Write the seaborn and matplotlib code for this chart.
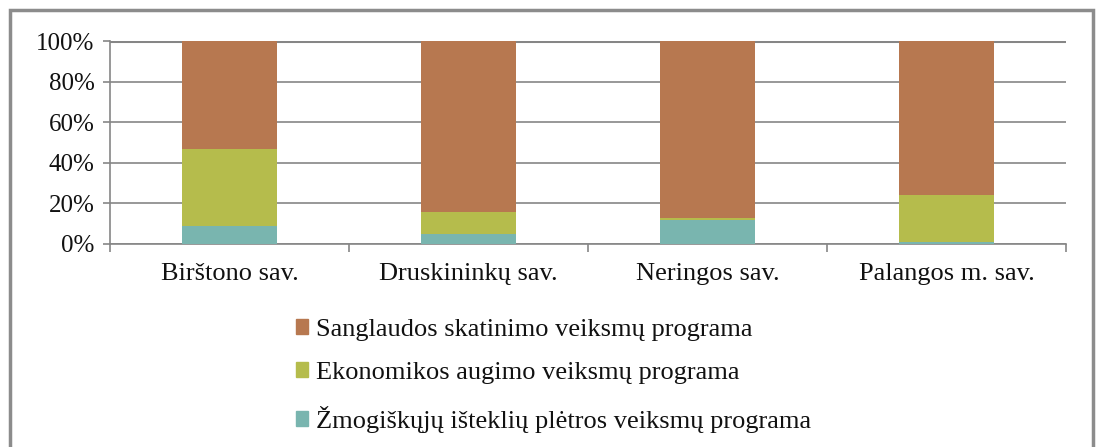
import matplotlib
matplotlib.use("Agg")
import matplotlib.pyplot as plt
import matplotlib.patches as mpatches
from matplotlib.ticker import FixedLocator, PercentFormatter
import numpy as np
import pandas as pd
import seaborn as sns

# Savivaldybės ir ES fondų veiksmų programų dalys (%)
savivaldybes = ["Birštono sav.", "Druskininkų sav.", "Neringos sav.", "Palangos m. sav."]
zmogiskuju = [9, 5, 12, 1]
ekonomikos = [38, 11, 1, 23]
sanglaudos = [53, 84, 87, 76]

serijos = [
    "Žmogiškųjų išteklių plėtros veiksmų programa",
    "Ekonomikos augimo veiksmų programa",
    "Sanglaudos skatinimo veiksmų programa",
]
spalvos = ["#79B5AF", "#B5BC4C", "#B77850"]

sns.set_theme(style="white")
plt.rcParams["font.family"] = ["Liberation Serif", "DejaVu Serif"]

df = pd.DataFrame({
    "savivaldybe": savivaldybes,
    serijos[0]: zmogiskuju,
    serijos[1]: ekonomikos,
    serijos[2]: sanglaudos,
})
# sukauptos sumos – sluoksniai piešiami nuo viršutinio iki apatinio
kaupt = df[serijos].cumsum(axis=1)

fig = plt.figure(figsize=(11, 4.47), dpi=100)
ax = fig.add_axes([110 / 1100, 1 - 244 / 447, (1066 - 110) / 1100, (244 - 41) / 447])

for ser, spalva in reversed(list(zip(serijos, spalvos))):
    sns.barplot(x=df["savivaldybe"], y=kaupt[ser], color=spalva, width=0.4,
                saturation=1, linewidth=0, edgecolor="none", ax=ax, zorder=3)

grid_c = "#868686"
txt_c = "#111111"
ax.set_ylim(0, 100)
ax.set_xlim(-0.5, 3.5)
ax.yaxis.set_major_locator(FixedLocator([0, 20, 40, 60, 80, 100]))
ax.yaxis.set_major_formatter(PercentFormatter(decimals=0))
ax.grid(axis="y", color=grid_c, linewidth=1.2, zorder=0)
ax.axhline(100, color=grid_c, linewidth=2.2, zorder=1)
ax.set_xlabel("")
ax.set_ylabel("")

for s in ["top", "right"]:
    ax.spines[s].set_visible(False)
for s in ["left", "bottom"]:
    ax.spines[s].set_color(grid_c)
    ax.spines[s].set_linewidth(1.2)

ax.tick_params(axis="y", which="major", left=True, length=5, width=1.2,
               color=grid_c, labelsize=18, labelcolor=txt_c, pad=6)
ax.tick_params(axis="x", which="major", bottom=False, length=0, labelsize=19,
               labelcolor=txt_c, pad=14)
ax.set_xticks(np.arange(-0.5, 4, 1), minor=True)
ax.tick_params(axis="x", which="minor", bottom=True, length=6, width=1.2, color=grid_c)

handles = [mpatches.Patch(color=c, label=l) for c, l in zip(spalvos, serijos)][::-1]
fig.legend(handles=handles, loc="upper left", bbox_to_anchor=(285 / 1100, 1 - 308 / 447),
           frameon=False, fontsize=19, handlelength=0.48, handleheight=0.48,
           handletextpad=0.3, labelspacing=0.82, borderaxespad=0,
           labelcolor=txt_c)

# rėmelis aplink visą paveikslą
fig.patches.append(mpatches.Rectangle((10 / 1100, -0.02), (1093 - 10) / 1100,
                                      1 - 10 / 447 + 0.02,
                                      transform=fig.transFigure, fill=False,
                                      edgecolor="#8C8C8C", linewidth=2.5))

fig.savefig("out.png", dpi=100, facecolor="white")
